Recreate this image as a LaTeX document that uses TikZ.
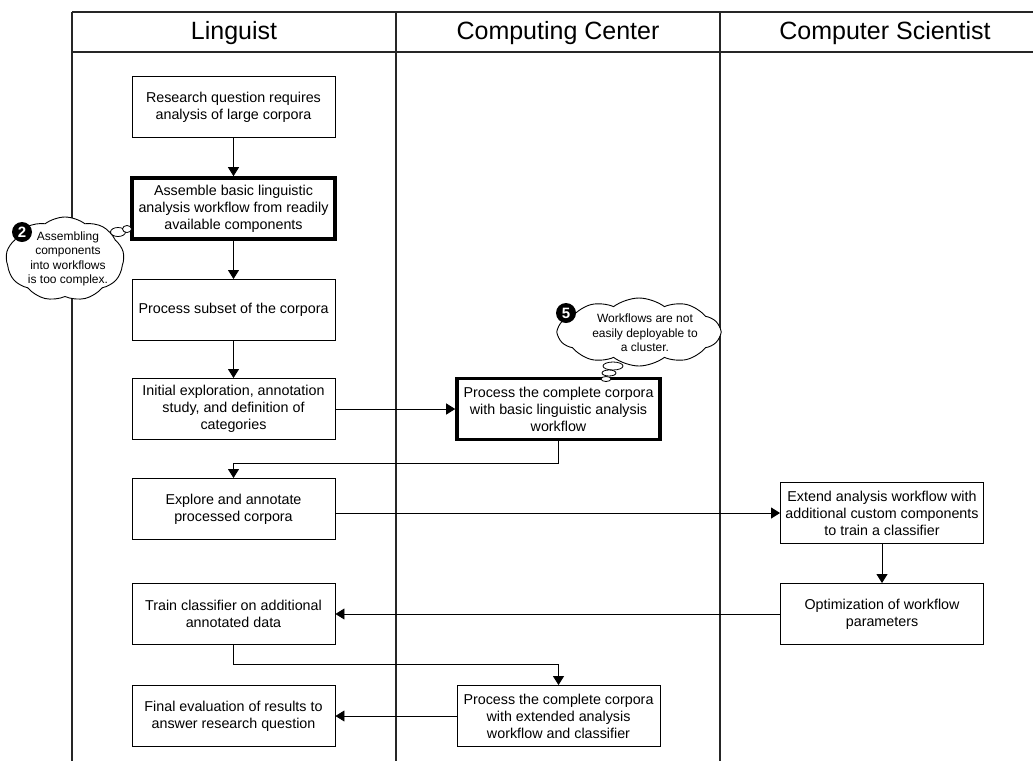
\documentclass[tikz,border=0pt]{standalone}
\usepackage{fontspec}
\setmainfont{Liberation Sans}
\usetikzlibrary{arrows.meta,shapes.symbols,shapes.geometric,calc}
\begin{document}
\begin{tikzpicture}[x=1pt,y=-1pt,
  lane/.style={line width=1.2pt, black!85},
  box/.style={draw, line width=0.9pt, minimum width=203pt, minimum height=61pt, align=center, inner sep=2pt, font=\fontsize{14.3}{17}\selectfont},
  thickbox/.style={box, line width=3.6pt},
  header/.style={font=\fontsize{25}{30}\selectfont},
  arr/.style={-{Triangle[width=11pt,length=9pt]}, line width=0.9pt},
  thought/.style={cloud, draw, cloud ignores aspect, inner sep=0pt, line width=0.9pt, fill=white},
  ctext/.style={align=center, inner sep=0pt, font=\fontsize{12}{14.5}\selectfont},
  numc/.style={circle, fill=black, text=white, inner sep=0pt, minimum size=20pt, font=\bfseries\fontsize{15}{15}\selectfont},
  bub/.style={ellipse, draw, fill=white, inner sep=0pt, line width=0.8pt}]
\useasboundingbox (0,0) rectangle (1033,761);
% swimlanes
\draw[lane] (72,12) -- (1033,12);
\draw[lane] (72,52) -- (1033,52);
\draw[lane] (72,12) -- (72,761);
\draw[lane] (396,12) -- (396,761);
\draw[lane] (720,12) -- (720,761);
\node[header] (hL) at (234,33) {Linguist};
\node[header] (hC) at (558,33) {Computing Center};
\node[header] (hS) at (885,33) {Computer Scientist};
% Linguist nodes
\node[box] (n1) at (233.5,107) {Research question requires\\analysis of large corpora};
\node[thickbox] (n2) at (233.5,208.5) {Assemble basic linguistic\\analysis workflow from readily\\available components};
\node[box] (n3) at (233.5,310) {Process subset of the corpora};
\node[box] (n4) at (233.5,409) {Initial exploration, annotation\\study, and definition of\\categories};
\node[box] (n5) at (233.5,509) {Explore and annotate\\processed corpora};
\node[box] (n6) at (233.5,614) {Train classifier on additional\\annotated data};
\node[box] (n7) at (233.5,716) {Final evaluation of results to\\answer research question};
% Computing center nodes
\node[thickbox] (c1) at (558.5,409) {Process the complete corpora\\with basic linguistic analysis\\workflow};
\node[box] (c2) at (558.5,716) {Process the complete corpora\\with extended analysis\\workflow and classifier};
% Computer scientist nodes
\node[box] (s1) at (882,513) {Extend analysis workflow with\\additional custom components\\to train a classifier};
\node[box] (s2) at (882,614) {Optimization of workflow\\parameters};
% connectors
\draw[arr] (n1) -- (n2);
\draw[arr] (n2) -- (n3);
\draw[arr] (n3) -- (n4);
\draw[arr] (n4) -- (c1);
\coordinate (k1) at (558.5,463);
\coordinate (k2) at (233.5,463);
\draw[arr] (c1.south) -- (k1) -- (k2) -- (n5.north);
\draw[arr] (n5.east |- s1.west) -- (s1.west);
\draw[arr] (s1) -- (s2);
\draw[arr] (s2) -- (n6);
\coordinate (k3) at (233.5,664);
\coordinate (k4) at (558.5,664);
\draw[arr] (n6.south) -- (k3) -- (k4) -- (c2.north);
\draw[arr] (c2) -- (n7);
% thought cloud 2
\node[thought, cloud puffs=9, cloud puff arc=75, minimum width=118pt, minimum height=84pt] (cl2) at (65,259) {};
\node[ctext] (t2) at (68,259) {Assembling\\components\\into workflows\\is too complex.};
\node[bub, minimum width=15pt, minimum height=9pt] (b2a) at (118,232) {};
\node[bub, minimum width=9pt, minimum height=7pt] (b2b) at (127,229) {};
\node[numc] (m2) at (22,232) {2};
% thought cloud 5
\node[thought, cloud puffs=10, cloud puff arc=75, minimum width=162pt, minimum height=68pt] (cl5) at (639,332) {};
\node[ctext] (t5) at (645,333) {Workflows are not\\easily deployable to\\a cluster.};
\node[bub, minimum width=20pt, minimum height=8pt] (b5a) at (613,366) {};
\node[bub, minimum width=14pt, minimum height=6pt] (b5b) at (609,373) {};
\node[bub, minimum width=10pt, minimum height=5pt] (b5c) at (606,379) {};
\node[numc] (m5) at (566,313) {5};
\end{tikzpicture}
\end{document}
